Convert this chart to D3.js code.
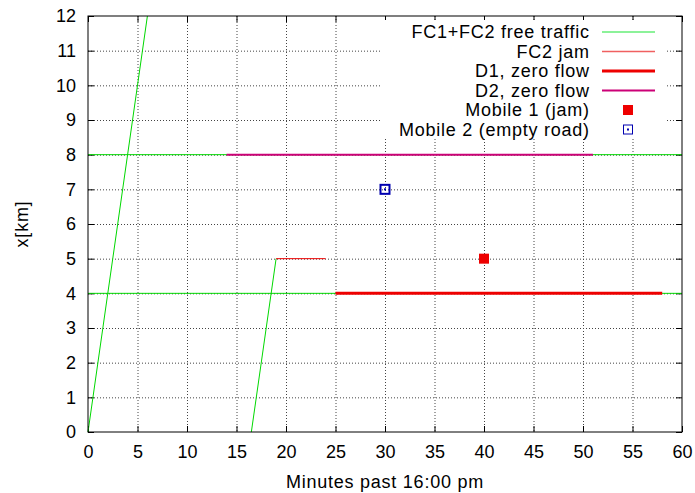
<!DOCTYPE html>
<html><head><meta charset="utf-8">
<script src="https://cdn.jsdelivr.net/npm/d3@7"></script>
<style>body{margin:0;background:#fff}svg text{font-family:"Liberation Sans",Arial,sans-serif}</style>
</head><body><svg id="c" width="695" height="493"></svg>
<script>
const xTicks = d3.range(0, 61, 5);
const yTicks = d3.range(0, 13, 1);
const freeTraffic = [[[0,0],[6,12]], [[16.5,0],[19,5]], [[0,4],[60,4]], [[0,8],[60,8]]];
const fc2Jam = [[19,5],[24,5]];
const d1Zero = [[25,4],[58,4]];
const d2Zero = [[14,8],[51,8]];
const mobile1 = [[40,5]];
const mobile2 = [[30,7]];
const legendLabels = ["FC1+FC2 free traffic","FC2 jam","D1, zero flow","D2, zero flow","Mobile 1 (jam)","Mobile 2 (empty road)"];

const svg = d3.select("#c");
const L=88, R=682, T=16, B=432;
const x = d3.scaleLinear().domain([0,60]).range([L,R]);
const y = d3.scaleLinear().domain([0,12]).range([B,T]);
const fs = 18;

// grid
const g = svg.append("g");
g.selectAll(".gx").data(xTicks.slice(1,-1)).join("line")
  .attr("x1",d=>x(d)+0.5).attr("x2",d=>x(d)+0.5).attr("y1",T).attr("y2",B)
  .attr("stroke","#444").attr("stroke-width",1).attr("stroke-dasharray","1,2");
g.selectAll(".gy").data(yTicks.slice(1,-1)).join("line")
  .attr("y1",d=>y(d)+0.5).attr("y2",d=>y(d)+0.5).attr("x1",L).attr("x2",R)
  .attr("stroke","#444").attr("stroke-width",1).attr("stroke-dasharray","1,2");

// axes with inward ticks
const axB = d3.axisBottom(x).tickValues(xTicks).tickSize(-6).tickPadding(13);
const axT = d3.axisTop(x).tickValues(xTicks).tickSize(-6).tickFormat("");
const axL = d3.axisLeft(y).tickValues(yTicks).tickSize(-6).tickPadding(12);
const axR = d3.axisRight(y).tickValues(yTicks).tickSize(-6).tickFormat("");
function styl(s){s.select(".domain").remove();s.selectAll("line").attr("stroke","#000");s.selectAll("text").attr("font-size",fs).attr("fill","#000").style("font-family","Liberation Sans, Arial, sans-serif");}
svg.append("g").attr("transform",`translate(0,${B})`).call(axB).call(styl);
svg.append("g").attr("transform",`translate(0,${T})`).call(axT).call(styl);
svg.append("g").attr("transform",`translate(${L},0)`).call(axL).call(styl);
svg.append("g").attr("transform",`translate(${R},0)`).call(axR).call(styl);

const line = d3.line().x(d=>x(d[0])).y(d=>y(d[1]));
const cGreen="#00d800", cRed="#ee0000", cMag="#cc0077", cBlue="#0000b0";
freeTraffic.forEach(seg=>svg.append("path").attr("d",line(seg)).attr("fill","none").attr("stroke",cGreen).attr("stroke-width",1));
svg.append("path").attr("d",line(fc2Jam)).attr("fill","none").attr("stroke",cRed).attr("stroke-width",1);
svg.append("path").attr("d",line(d1Zero)).attr("fill","none").attr("stroke",cRed).attr("stroke-width",3);
svg.append("path").attr("d",line(d2Zero)).attr("fill","none").attr("stroke",cMag).attr("stroke-width",2);
svg.selectAll(".m1").data(mobile1).join("rect")
  .attr("x",d=>x(d[0])-5).attr("y",d=>y(d[1])-5).attr("width",10).attr("height",10).attr("fill",cRed);
svg.selectAll(".m2").data(mobile2).join("g").each(function(d){
  const s=d3.select(this);
  s.append("rect").attr("x",x(d[0])-4.5).attr("y",y(d[1])-4.5).attr("width",9).attr("height",9).attr("fill","none").attr("stroke",cBlue).attr("stroke-width",2);
  s.append("rect").attr("x",x(d[0])-1).attr("y",y(d[1])-1).attr("width",2).attr("height",2).attr("fill",cBlue);
});

// border
svg.append("rect").attr("x",L).attr("y",T).attr("width",R-L).attr("height",B-T).attr("fill","none").attr("stroke","#000").attr("stroke-width",1);

// legend (opaque box)
const ly0=32, ldy=19.5, ltx=589, ls1=602, ls2=655, lm=628;
svg.append("rect").attr("x",380).attr("y",T+4).attr("width",286).attr("height",119).attr("fill","#fff");
legendLabels.forEach((t,i)=>{
  const yy=ly0+i*ldy;
  svg.append("text").attr("x",ltx+0.75).attr("y",yy).attr("dy","0.35em").attr("text-anchor","end")
    .attr("font-size",fs).attr("letter-spacing","0.75px").text(t);
});
const lyS=i=>ly0+i*ldy;
svg.append("line").attr("x1",ls1).attr("x2",ls2).attr("y1",lyS(0)).attr("y2",lyS(0)).attr("stroke","#66ee77").attr("stroke-width",1.5);
svg.append("line").attr("x1",ls1).attr("x2",ls2).attr("y1",lyS(1)).attr("y2",lyS(1)).attr("stroke","#f06060").attr("stroke-width",1.5);
svg.append("line").attr("x1",ls1).attr("x2",ls2).attr("y1",lyS(2)).attr("y2",lyS(2)).attr("stroke",cRed).attr("stroke-width",3);
svg.append("line").attr("x1",ls1).attr("x2",ls2).attr("y1",lyS(3)).attr("y2",lyS(3)).attr("stroke",cMag).attr("stroke-width",2);
svg.append("rect").attr("x",lm-5).attr("y",lyS(4)-5).attr("width",10).attr("height",10).attr("fill",cRed);
svg.append("rect").attr("x",lm-4.5).attr("y",lyS(5)-4.5).attr("width",9).attr("height",9).attr("fill","none").attr("stroke",cBlue).attr("stroke-width",1);
svg.append("rect").attr("x",lm-1).attr("y",lyS(5)-1).attr("width",2).attr("height",2).attr("fill",cBlue);

// axis labels
svg.append("text").attr("x",(L+R)/2).attr("y",488).attr("text-anchor","middle").attr("font-size",fs).attr("letter-spacing","0.75px").text("Minutes past 16:00 pm");
svg.append("text").attr("transform","translate(28,224) rotate(-90)").attr("text-anchor","middle").attr("font-size",fs).attr("letter-spacing","0.75px").text("x[km]");
</script></body></html>
